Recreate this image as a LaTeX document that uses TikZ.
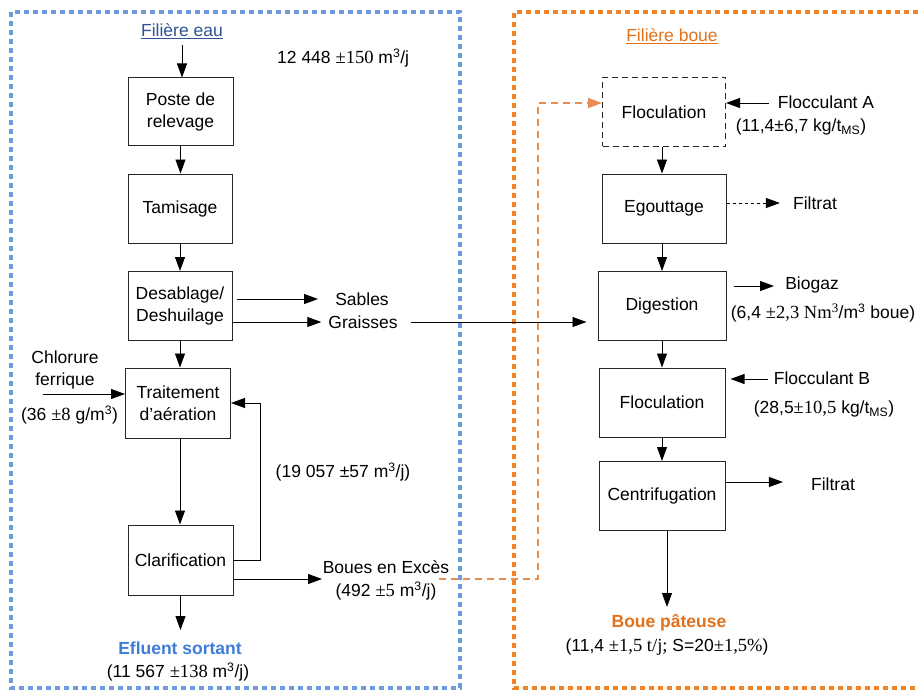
\documentclass[tikz,border=0pt]{standalone}
\usepackage{fontspec}
\setmainfont{Liberation Sans}
\newfontfamily\tnr[Scale=1.06]{Liberation Serif}
\usetikzlibrary{arrows.meta}
\definecolor{bordblue}{RGB}{108,155,222}
\definecolor{titblue}{RGB}{46,84,150}
\definecolor{effblue}{RGB}{61,125,216}
\definecolor{bordorange}{RGB}{240,130,40}
\definecolor{titorange}{RGB}{226,112,25}
\definecolor{connorange}{RGB}{232,140,80}
\tikzset{
  procbox/.style={draw=black!85, line width=1pt, align=center, inner sep=0pt, font=\fontsize{17.5}{22}\selectfont},
  lbl/.style={inner sep=0pt, align=center, font=\fontsize{17.5}{22}\selectfont},
  arr/.style={-{Triangle[length=14pt,width=10pt]}, line width=0.9pt},
  plain/.style={line width=0.9pt},
}
\newcommand{\sr}[1]{{\tnr #1}}
\begin{document}
\begin{tikzpicture}[x=1pt,y=-1pt]
\useasboundingbox (0,0) rectangle (918,690);
% borders
\draw[bordblue, line width=3.2pt, dash pattern=on 5pt off 4pt] (11,12) rectangle (460,688);
\draw[bordorange, line width=3.2pt, dash pattern=on 5pt off 4pt] (918,12) -- (514,12) -- (514,688) -- (918,688);

% titles
\node[lbl, text=titblue] (fe) at (182,31) {\underline{Filière eau}};
\node[lbl, text=titorange] (fb) at (672,36) {\underline{Filière boue}};
\node[lbl, anchor=west] (q1) at (277,58) {12 448 \sr{±150} m\textsuperscript{3}/j};

% left column
\node[procbox, minimum width=105pt, minimum height=68pt] (pr) at (180.5,112) {Poste de\\relevage};
\node[procbox, minimum width=104pt, minimum height=69pt] (ta) at (180,208.5) {Tamisage};
\node[procbox, minimum width=104pt, minimum height=69pt] (de) at (180,306) {Desablage/\\Deshuilage};
\node[procbox, minimum width=105pt, minimum height=70pt] (tr) at (178,403) {Traitement\\d’aération};
\node[procbox, minimum width=105pt, minimum height=70pt] (cl) at (180.5,560) {Clarification};

\draw[arr] (fe.south |- 0,45) -- (fe.south |- pr.north);
\draw[arr] (pr.south) -- (pr.south |- ta.north);
\draw[arr] (ta.south) -- (ta.south |- de.north);
\draw[arr] (de.south) -- (de.south |- tr.north);
\draw[arr] (de.south |- tr.south) -- (de.south |- cl.north);

% sables / graisses
\node[lbl] (sa) at (362,299) {Sables};
\node[lbl] (gr) at (363,322) {Graisses};
\draw[arr] ([xshift=4pt]de.east |- sa) -- ([xshift=-17pt]sa.west);
\draw[arr] (de.east |- gr) -- ([xshift=-7pt]gr.west);

% chlorure
\node[lbl] (ch) at (65,370) {Chlorure\\ferrique};
\node[lbl] (chq) at (69.5,415) {(36 \sr{±8} g/m\textsuperscript{3})};
\coordinate (chs) at (43,394);
\draw[arr] (chs) -- (tr.west |- chs);

% recycle
\coordinate (rc) at (260,560);
\node[lbl] (rq) at (343,472) {(19 057 ±57 m\textsuperscript{3}/j)};
\draw[arr] (cl.east |- rc) -- (rc) -- (rc |- 0,403) -- (tr.east |- 0,403);

% boues en exces
\node[lbl] (be) at (386,567) {Boues en Excès};
\node[lbl] (beq) at (386,591) {(492 \sr{±5} m\textsuperscript{3}/j)};
\coordinate (bel) at (322,579);
\draw[arr] (cl.east |- bel) -- (bel);

% effluent
\node[lbl, text=effblue, font=\fontsize{17.5}{22}\selectfont\bfseries] (ef) at (180,648) {Efluent sortant};
\node[lbl] (efq) at (178,672) {(11 567 \sr{±138} m\textsuperscript{3}/j)};
\draw[arr] (cl.south) -- (cl.south |- 0,630);

% right column
\node[procbox, dashed, dash pattern=on 6pt off 4pt, minimum width=123pt, minimum height=69pt] (f1) at (664,112) {Floculation};
\node[procbox, minimum width=124pt, minimum height=69pt] (eg) at (664,208.5) {Egouttage};
\node[procbox, minimum width=128pt, minimum height=69pt] (di) at (662,306) {Digestion};
\node[procbox, minimum width=126pt, minimum height=69pt] (f2) at (662,402.5) {Floculation};
\node[procbox, minimum width=126pt, minimum height=69pt] (ce) at (662,496) {Centrifugation};

\draw[arr] (f1.south -| 662,0) -- (eg.north -| 662,0);
\draw[arr] (eg.south -| 662,0) -- (di.north -| 662,0);
\draw[arr] (di.south -| 662,0) -- (f2.north -| 662,0);
\draw[arr] (f2.south -| 662,0) -- (ce.north -| 662,0);

% graisses to digestion
\draw[arr] ([xshift=13pt]gr.east) -- ([xshift=-11pt]di.west |- gr);

% boues en exces to floculation (orange dashed)
\coordinate (oc1) at (538,579);
\coordinate (oc2) at (538,103);
\draw[connorange, line width=1.2pt, dash pattern=on 7pt off 5pt, -{Triangle[length=14pt,width=10pt]}]
  ([xshift=2pt]beq.east |- oc1) -- (oc1) -- (oc2) -- (f1.west |- oc2);

% flocculant A
\node[lbl] (fa) at (826,102) {Flocculant A};
\node[lbl] (faq) at (801,127) {(11,4±6,7 kg/t\textsubscript{MS})};
\draw[arr] ([xshift=-9pt]fa.west |- 0,103) -- (f1.east |- 0,103);

% filtrat 1
\node[lbl] (ft1) at (815,203) {Filtrat};
\draw[arr, dash pattern=on 3pt off 3pt] (eg.east |- ft1) -- ([xshift=-13pt]ft1.west);

% biogaz
\node[lbl] (bg) at (812,285) {Biogaz};
\node[lbl] (bgq) at (823,313) {(6,4 \sr{±2,3 Nm\textsuperscript{3}}/m\textsuperscript{3} boue)};
\draw[arr] ([xshift=7pt]di.east |- 0,286) -- ([xshift=-11pt]bg.west |- 0,286);

% flocculant B
\node[lbl] (fbb) at (822,378) {Flocculant B};
\node[lbl] (fbq) at (824,409) {(28,5\sr{±10,5} kg/t\textsubscript{MS})};
\draw[arr] ([xshift=-6pt]fbb.west |- 0,379) -- ([xshift=5pt]f2.east |- 0,379);

% filtrat 2
\node[lbl] (ft2) at (833,484) {Filtrat};
\draw[arr] (ce.east |- 0,482) -- ([xshift=-28pt]ft2.west |- 0,482);

% boue pateuse
\node[lbl, text=titorange, font=\fontsize{17.5}{22}\selectfont\bfseries] (bp) at (669,623) {Boue pâteuse};
\node[lbl] (bpq) at (667,647) {(11,4 \sr{±1,5 t/j;} S=20\sr{±1,5\%})};
\draw[arr] (ce.south -| 667,0) -- (667,607);
\end{tikzpicture}
\end{document}
